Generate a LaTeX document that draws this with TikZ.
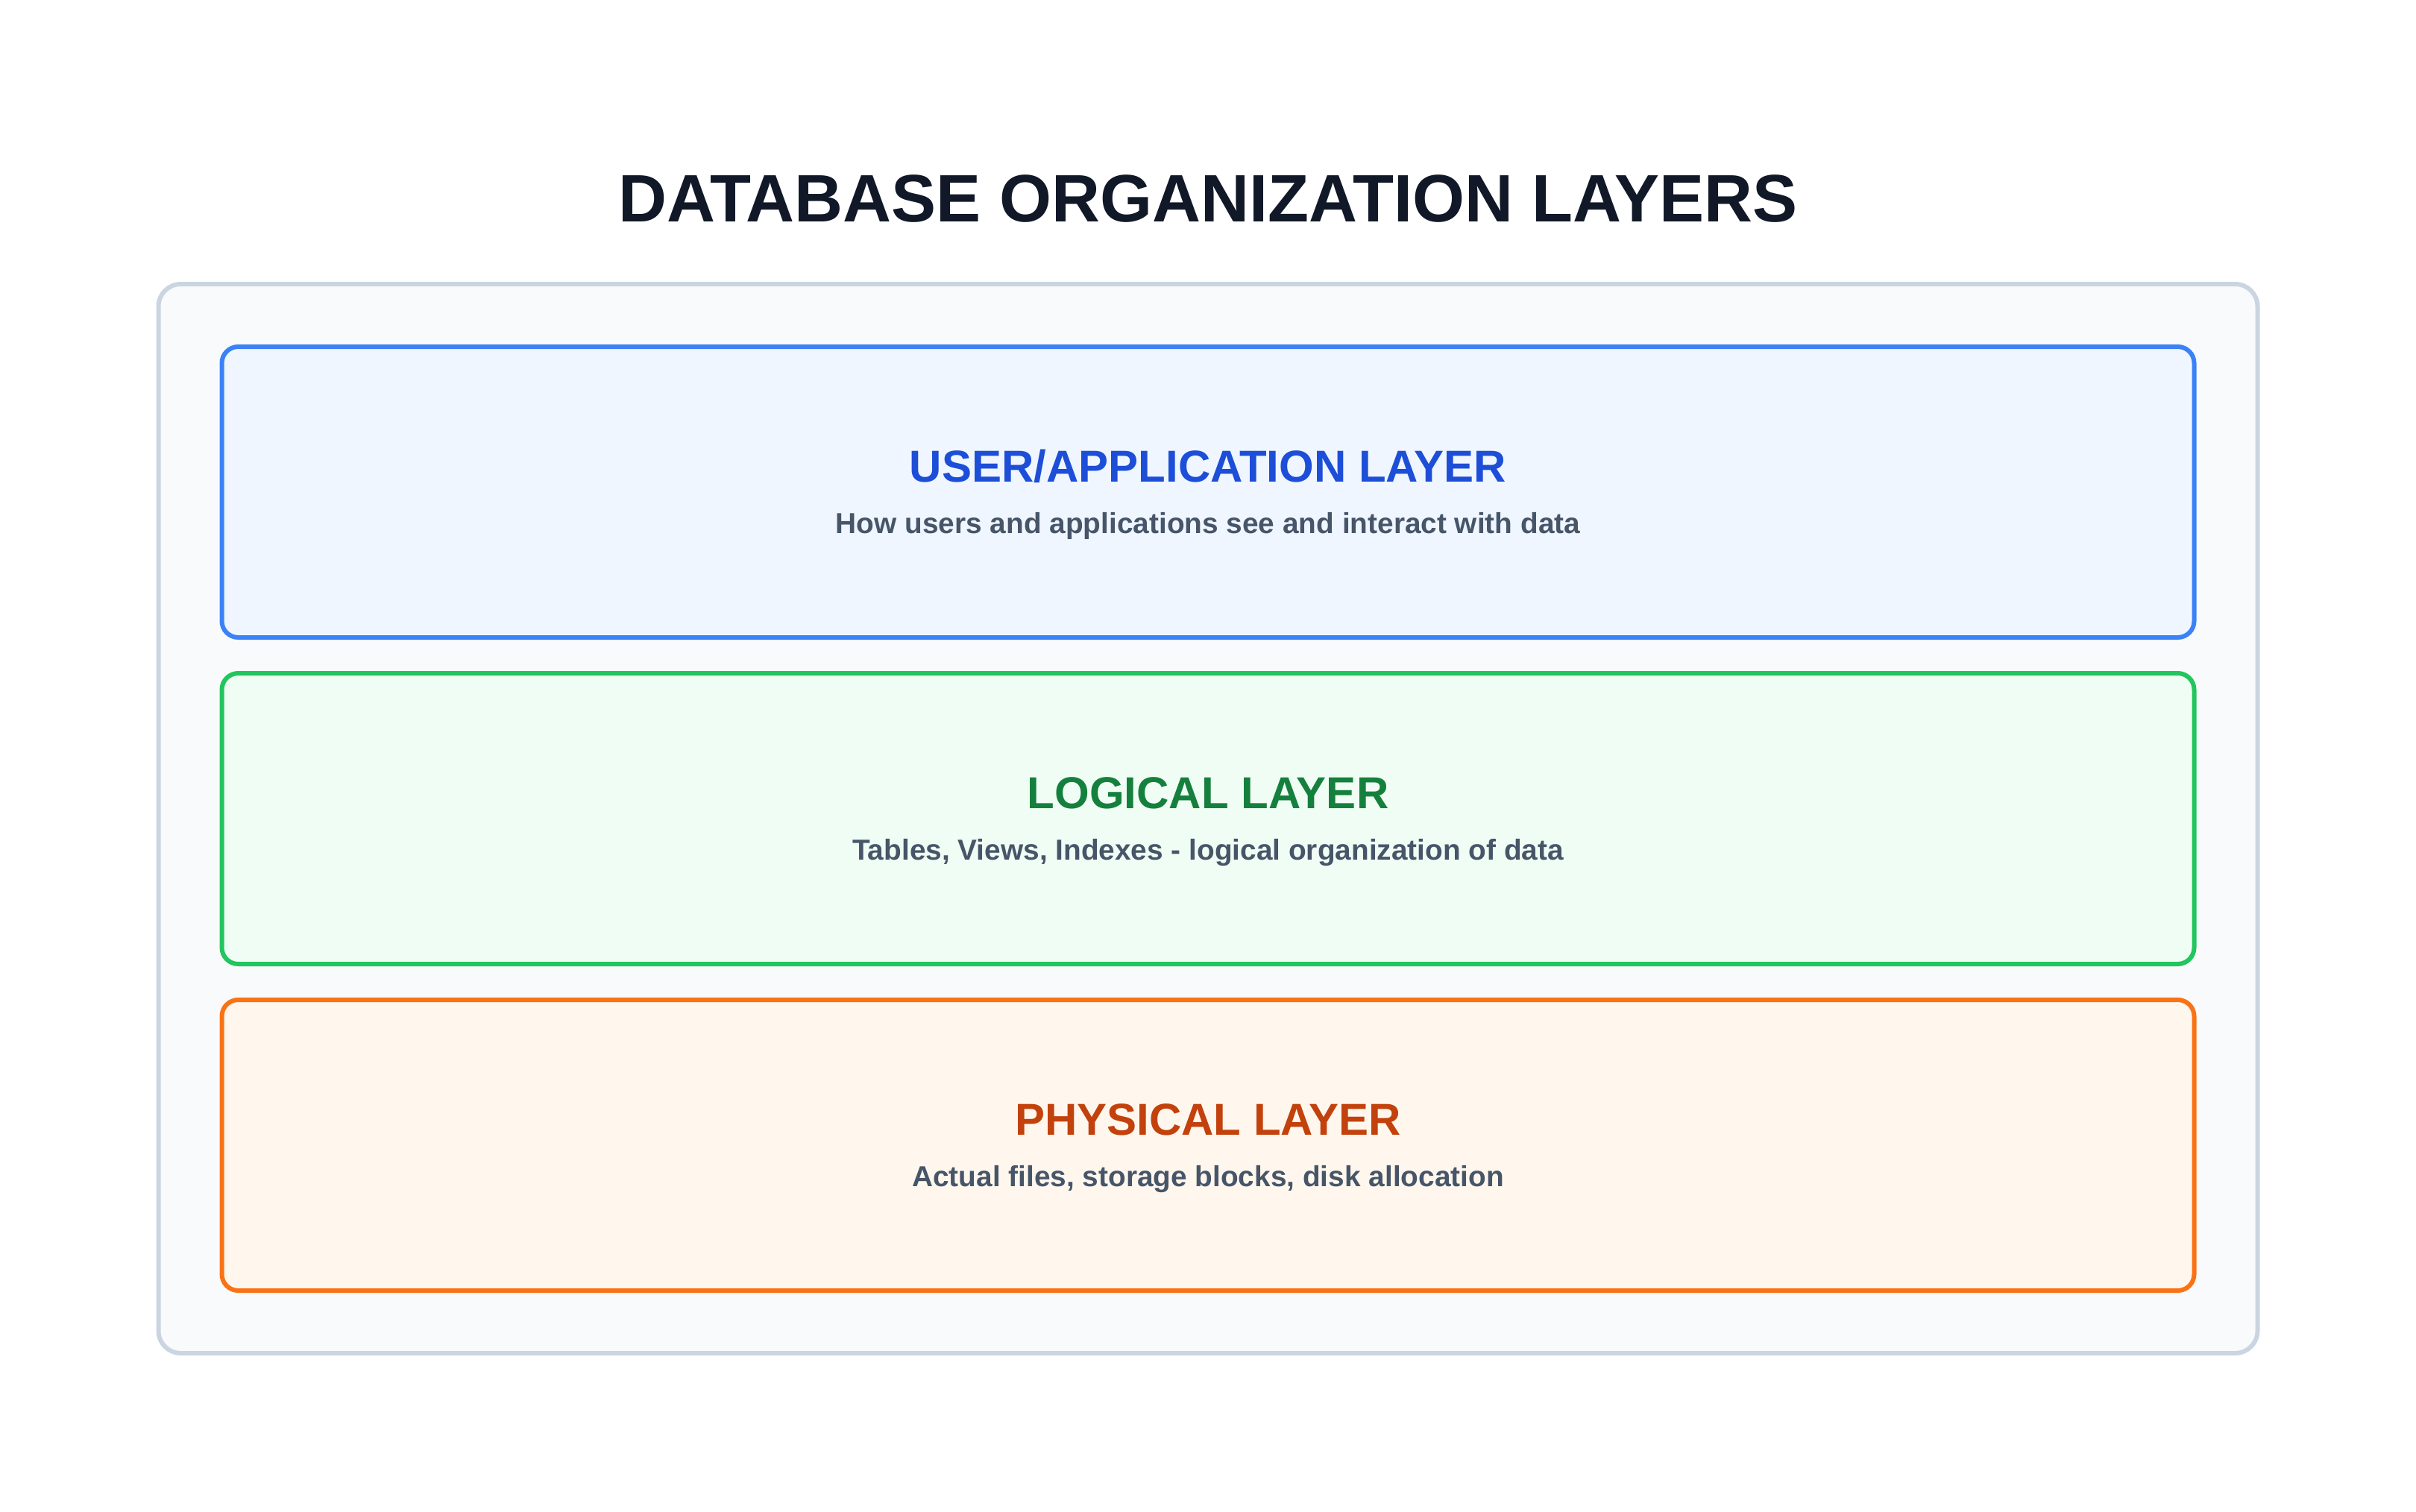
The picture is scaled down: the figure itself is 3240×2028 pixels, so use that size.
\documentclass[tikz,border=0pt]{standalone}
\usepackage{fontspec}
\setmainfont{Liberation Sans}
\definecolor{titlec}{HTML}{111827}
\definecolor{subc}{HTML}{475569}
\definecolor{outerfill}{HTML}{F8FAFC}
\definecolor{outerdraw}{HTML}{CBD5E1}
\definecolor{bluedraw}{HTML}{3B82F6}
\definecolor{bluefill}{HTML}{EFF6FF}
\definecolor{bluetext}{HTML}{1D4ED8}
\definecolor{greendraw}{HTML}{22C55E}
\definecolor{greenfill}{HTML}{F0FDF4}
\definecolor{greentext}{HTML}{15803D}
\definecolor{orangedraw}{HTML}{F97316}
\definecolor{orangefill}{HTML}{FFF7ED}
\definecolor{orangetext}{HTML}{C2410C}
\tikzset{
  layerbox/.style={draw=#1draw, fill=#1fill, line width=6pt, rounded corners=22pt,
    minimum width=2645pt, minimum height=390pt, inner sep=0pt},
  headtext/.style={anchor=base, inner sep=0pt, text=#1text,
    font=\fontsize{60}{66}\selectfont\bfseries},
  subtext/.style={anchor=base, inner sep=0pt, text=subc,
    font=\fontsize{38.8}{44}\selectfont\bfseries},
}
\begin{document}
\begin{tikzpicture}[x=1pt,y=-1pt]
\useasboundingbox[fill=white] (0,0) rectangle (3240,2028);
\node[anchor=base, inner sep=0pt, text=titlec, font=\fontsize{90}{98}\selectfont\bfseries] (title) at (1620,297) {DATABASE ORGANIZATION LAYERS};
\node[draw=outerdraw, fill=outerfill, line width=6pt, rounded corners=30pt,
  minimum width=2815pt, minimum height=1434pt, inner sep=0pt] (outer) at (1620,1098) {};
\node[layerbox=blue] (user) at (1620,660) {};
\node[layerbox=green] (logical) at (1620,1098) {};
\node[layerbox=orange] (physical) at (1620,1536) {};
\node[headtext=blue] (userh) at (1620,646) {USER/APPLICATION LAYER};
\node[subtext] (users) at (1620,715) {How users and applications see and interact with data};
\node[headtext=green] (logicalh) at (1620,1084) {LOGICAL LAYER};
\node[subtext] (logicals) at (1620,1153) {Tables, Views, Indexes - logical organization of data};
\node[headtext=orange] (physicalh) at (1620,1522) {PHYSICAL LAYER};
\node[subtext] (physicals) at (1620,1591) {Actual files, storage blocks, disk allocation};
\end{tikzpicture}
\end{document}
